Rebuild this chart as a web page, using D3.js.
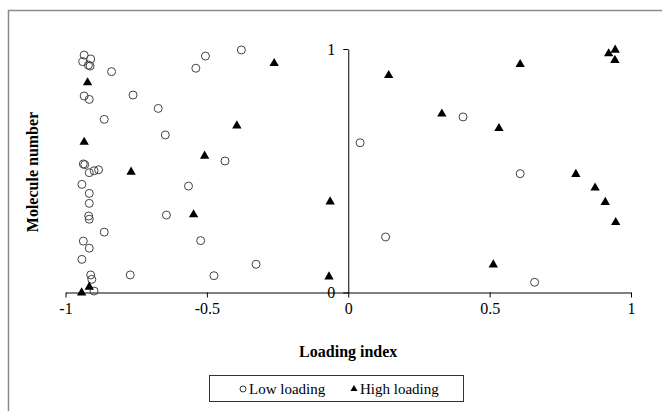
<!DOCTYPE html>
<html>
<head>
<meta charset="utf-8">
<script src="https://cdn.jsdelivr.net/npm/d3@7"></script>
<style>
  body { margin: 0; background: #fff; }
  svg text { font-family: "Liberation Serif", "Times New Roman", Times, serif !important; }
</style>
</head>
<body>
<script>
// Low loading points: [loading index, molecule number (scaled 0-1)]
const lowX = [-0.934, -0.939, -0.911, -0.913, -0.919, -0.837, -0.934, -0.916, -0.761, -0.672,
              -0.863, -0.647, -0.539, -0.505, -0.378, -0.436, -0.937, -0.932, -0.916, -0.899,
              -0.883, -0.942, -0.916, -0.916, -0.918, -0.916, -0.863, -0.937, -0.916, -0.942,
              -0.911, -0.907, -0.899, -0.771, -0.565, -0.643, -0.522, -0.326, -0.475,
               0.042, 0.406, 0.608, 0.132, 0.659];
const lowY = [0.975, 0.948, 0.959, 0.930, 0.934, 0.907, 0.807, 0.793, 0.811, 0.756,
              0.711, 0.647, 0.921, 0.971, 0.996, 0.540, 0.528, 0.525, 0.492, 0.500,
              0.504, 0.444, 0.407, 0.366, 0.314, 0.301, 0.248, 0.211, 0.182, 0.136,
              0.072, 0.054, 0.006, 0.072, 0.437, 0.318, 0.213, 0.116, 0.069,
              0.615, 0.721, 0.488, 0.228, 0.042];

// High loading points
const highX = [-0.922, -0.934, -0.508, -0.262, -0.394, -0.768, -0.547, -0.916, -0.943, -0.064,
               -0.068, 0.143, 0.331, 0.533, 0.608, 0.921, 0.944, 0.943, 0.805, 0.873,
               0.909, 0.946, 0.513];
const highY = [0.866, 0.622, 0.565, 0.945, 0.689, 0.499, 0.324, 0.027, 0.003, 0.377,
               0.069, 0.896, 0.738, 0.678, 0.941, 0.985, 1.000, 0.958, 0.490, 0.434,
               0.375, 0.292, 0.118];

const xTicks = [-1, -0.5, 0, 0.5, 1];
const yTicks = [0, 1];
const seriesNames = ["Low loading", "High loading"];

const W = 662, H = 411;

const svg = d3.select("body").append("svg")
  .attr("width", W).attr("height", H);

// outer frame (top and left edges only visible)
svg.append("line").attr("x1", 8).attr("x2", W).attr("y1", 10.5).attr("y2", 10.5)
  .attr("stroke", "#8a8a8a").attr("stroke-width", 1.5);
svg.append("line").attr("x1", 8.5).attr("x2", 8.5).attr("y1", 10).attr("y2", H)
  .attr("stroke", "#8a8a8a").attr("stroke-width", 1.5);

const x = d3.scaleLinear().domain([-1, 1]).range([65.5, 631]);
const y = d3.scaleLinear().domain([0, 1]).range([292.5, 49]);

// x axis
const xAxis = svg.append("g")
  .attr("transform", `translate(0,${y(0)})`)
  .call(d3.axisBottom(x).tickValues(xTicks).tickSize(5).tickSizeOuter(0));
xAxis.select(".domain").attr("stroke", "#000");
xAxis.selectAll(".tick line").attr("stroke", "#000");
xAxis.selectAll(".tick text")
  .attr("font-size", 16).attr("dy", "0.9em").attr("y", 7).attr("fill", "#000")
  .text(d => d < 0 ? "-" + Math.abs(d) : d);

// y axis through x = 0
const yAxis = svg.append("g")
  .attr("transform", `translate(${x(0)},0)`)
  .call(d3.axisLeft(y).tickValues(yTicks).tickSize(5).tickSizeOuter(0).tickFormat(d3.format("d")));
yAxis.select(".domain").attr("stroke", "#000");
yAxis.selectAll(".tick line").attr("stroke", "#000");
yAxis.selectAll(".tick text")
  .attr("font-size", 16).attr("x", -13).attr("fill", "#000");

// low loading circles
svg.append("g").selectAll("circle")
  .data(lowX.map((v, i) => [v, lowY[i]]))
  .join("circle")
    .attr("cx", d => x(d[0]))
    .attr("cy", d => y(d[1]))
    .attr("r", 4)
    .attr("fill", "none")
    .attr("stroke", "#444")
    .attr("stroke-width", 1);

// high loading triangles
const tri = d3.symbol().type(d3.symbolTriangle).size(38);
svg.append("g").selectAll("path")
  .data(highX.map((v, i) => [v, highY[i]]))
  .join("path")
    .attr("d", tri)
    .attr("transform", d => `translate(${x(d[0])},${y(d[1]) + 1})`)
    .attr("fill", "#000");

// axis titles
svg.append("text")
  .attr("x", x(0)).attr("y", 357)
  .attr("text-anchor", "middle")
  .attr("font-size", 16).attr("font-weight", "bold")
  .text("Loading index");

svg.append("text")
  .attr("transform", "rotate(-90)")
  .attr("x", -172).attr("y", 38)
  .attr("text-anchor", "middle")
  .attr("font-size", 16).attr("font-weight", "bold")
  .text("Molecule number");

// legend
const legend = svg.append("g");
legend.append("rect")
  .attr("x", 209.5).attr("y", 375.5).attr("width", 254).attr("height", 26)
  .attr("fill", "#fff").attr("stroke", "#333").attr("stroke-width", 1);

legend.append("circle")
  .attr("cx", 243).attr("cy", 389).attr("r", 3)
  .attr("fill", "none").attr("stroke", "#333");
legend.append("text")
  .attr("x", 249).attr("y", 394)
  .attr("font-size", 15)
  .text(seriesNames[0]);

legend.append("path")
  .attr("d", d3.symbol().type(d3.symbolTriangle).size(22))
  .attr("transform", "translate(354,389)")
  .attr("fill", "#000");
legend.append("text")
  .attr("x", 360).attr("y", 394)
  .attr("font-size", 15)
  .text(seriesNames[1]);
</script>
</body>
</html>
